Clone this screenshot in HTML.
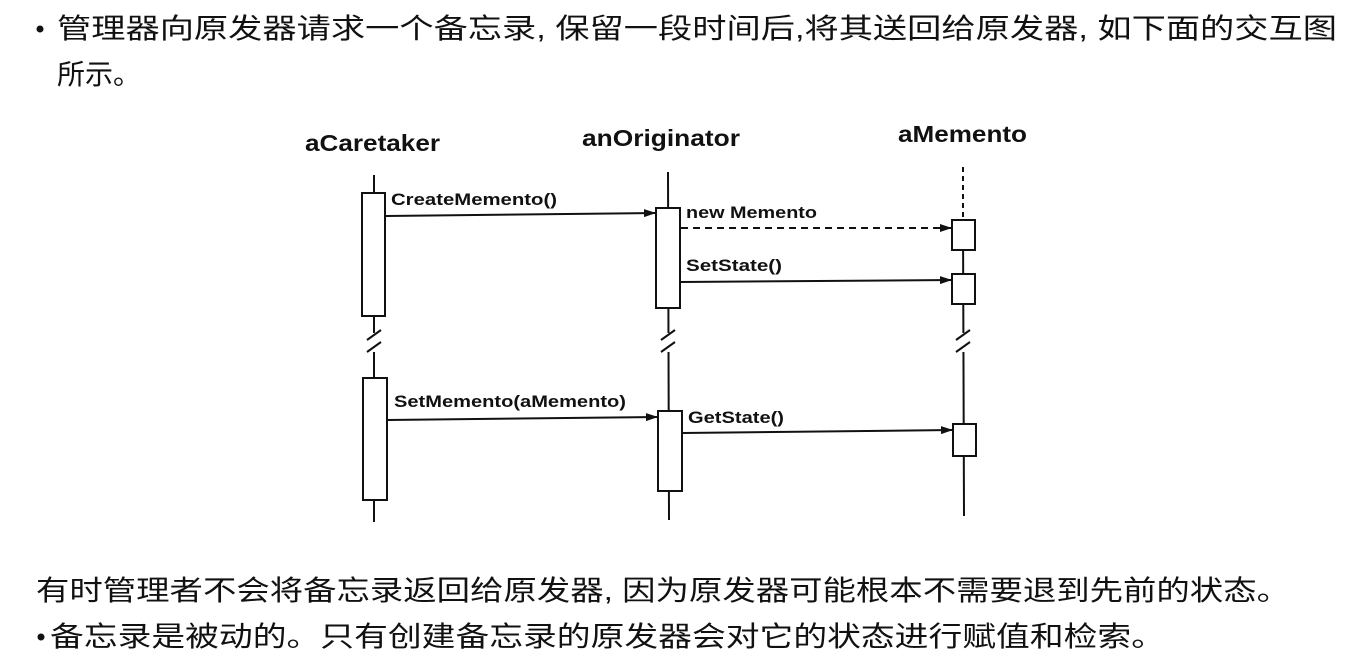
<!DOCTYPE html>
<html><head><meta charset="utf-8"><style>
html,body{margin:0;padding:0;background:#fff;width:1360px;height:670px;overflow:hidden}
.cn{font-family:"Liberation Sans","Noto Sans CJK SC",sans-serif;font-size:28px;fill:#111}
.h{font-family:"Liberation Sans",sans-serif;font-weight:bold;font-size:23px;fill:#111}
.l{font-family:"Liberation Sans",sans-serif;font-weight:bold;font-size:17px;fill:#111}
</style></head><body>
<svg width="1360" height="670" xmlns="http://www.w3.org/2000/svg">
<defs><marker id="a" markerWidth="12" markerHeight="8" refX="12" refY="4" orient="auto" markerUnits="userSpaceOnUse"><path d="M0,0 L12,4 L0,8 z" fill="#111"/></marker></defs>
<circle cx="40" cy="29" r="3.5" fill="#111"/>
<text class="cn" x="57" y="38" textLength="1280" lengthAdjust="spacingAndGlyphs">管理器向原发器请求一个备忘录, 保留一段时间后,将其送回给原发器, 如下面的交互图</text>
<text class="cn" x="57" y="84">所示。</text>
<text class="cn" x="36" y="600" textLength="1254" lengthAdjust="spacingAndGlyphs">有时管理者不会将备忘录返回给原发器, 因为原发器可能根本不需要退到先前的状态。</text>
<circle cx="41" cy="637" r="3.5" fill="#111"/>
<text class="cn" x="50" y="646" textLength="1115" lengthAdjust="spacingAndGlyphs">备忘录是被动的。只有创建备忘录的原发器会对它的状态进行赋值和检索。</text>

<text class="h" x="305" y="151" textLength="135" lengthAdjust="spacingAndGlyphs">aCaretaker</text>
<text class="h" x="582" y="146" textLength="158" lengthAdjust="spacingAndGlyphs">anOriginator</text>
<text class="h" x="898" y="142" textLength="129" lengthAdjust="spacingAndGlyphs">aMemento</text>

<g stroke="#111" stroke-width="2" fill="#fff">
<line x1="374" y1="175" x2="374" y2="522"/>
<rect x="362" y="193" width="23" height="123"/>
<rect x="363" y="378" width="24" height="122"/>
<line x1="668" y1="172" x2="669" y2="520"/>
<rect x="656" y="208" width="24" height="100"/>
<rect x="658" y="411" width="24" height="80"/>
<line x1="963" y1="167" x2="963" y2="220" stroke-dasharray="5,4"/>
<line x1="963" y1="220" x2="964" y2="516"/>
<rect x="952" y="220" width="23" height="30"/>
<rect x="952" y="274" width="23" height="30"/>
<rect x="953" y="424" width="23" height="32"/>
</g>
<g stroke="#fff" stroke-width="10">
<line x1="374" y1="333" x2="374" y2="352"/>
<line x1="668" y1="333" x2="668" y2="352"/>
<line x1="963" y1="333" x2="963" y2="352"/>
</g>
<g stroke="#111" stroke-width="2">
<line x1="367" y1="340" x2="381" y2="330"/><line x1="367" y1="352" x2="381" y2="342"/>
<line x1="661" y1="340" x2="675" y2="330"/><line x1="661" y1="352" x2="675" y2="342"/>
<line x1="956" y1="340" x2="970" y2="330"/><line x1="956" y1="352" x2="970" y2="342"/>
</g>
<g stroke="#111" stroke-width="2">
<line x1="386" y1="216" x2="656" y2="213" marker-end="url(#a)"/>
<line x1="681" y1="228" x2="952" y2="228" stroke-dasharray="7,5" marker-end="url(#a)"/>
<line x1="681" y1="282" x2="952" y2="280" marker-end="url(#a)"/>
<line x1="388" y1="420" x2="658" y2="417" marker-end="url(#a)"/>
<line x1="683" y1="433" x2="953" y2="430" marker-end="url(#a)"/>
</g>
<text class="l" x="391" y="205" textLength="166" lengthAdjust="spacingAndGlyphs">CreateMemento()</text>
<text class="l" x="686" y="218" textLength="131" lengthAdjust="spacingAndGlyphs">new Memento</text>
<text class="l" x="686" y="271" textLength="96" lengthAdjust="spacingAndGlyphs">SetState()</text>
<text class="l" x="394" y="407" textLength="232" lengthAdjust="spacingAndGlyphs">SetMemento(aMemento)</text>
<text class="l" x="688" y="423" textLength="96" lengthAdjust="spacingAndGlyphs">GetState()</text>
</svg>
</body></html>
